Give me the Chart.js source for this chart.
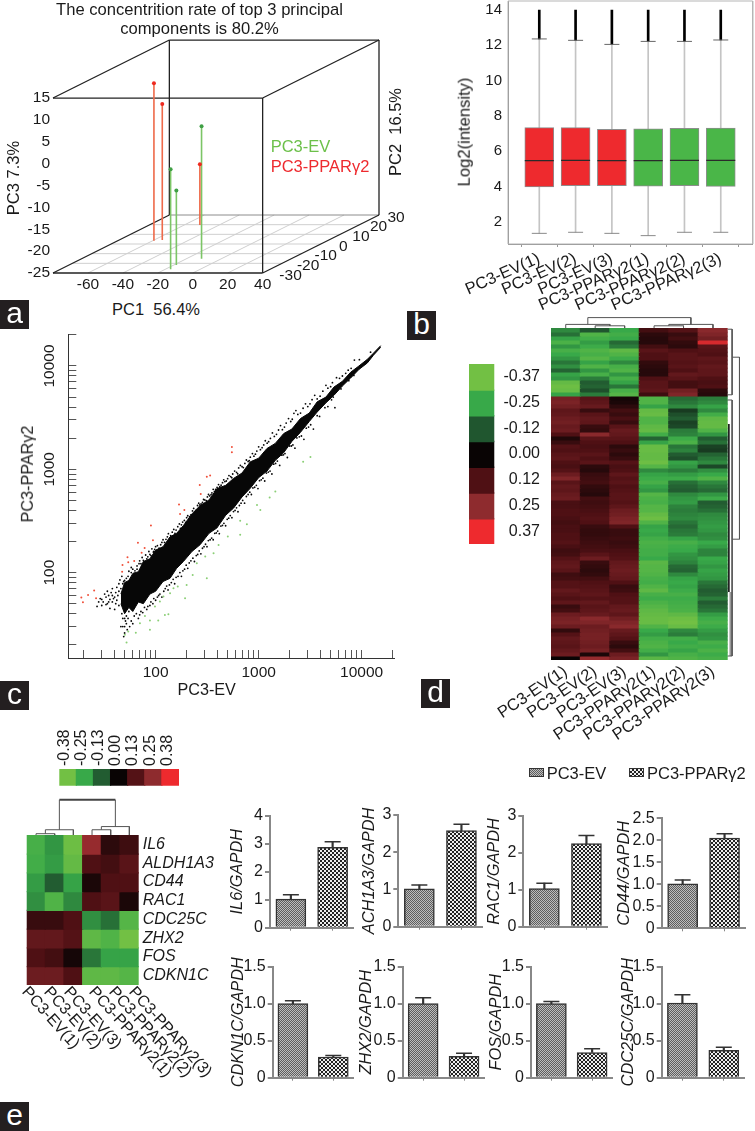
<!DOCTYPE html>
<html><head><meta charset="utf-8">
<script src="https://cdn.jsdelivr.net/npm/chart.js@4"></script>
<style>
html,body{margin:0;padding:0;background:#fff;width:755px;height:1131px;overflow:hidden}
canvas{position:absolute}
.t{position:absolute;white-space:pre;font-family:"Liberation Sans",Arial,sans-serif;color:#1a1a1a;line-height:1}
.p{position:absolute;width:29px;height:29px;background:#231f20;color:#fff;font:normal 30px/25px "Liberation Sans",Arial,sans-serif;text-align:center}
.s{position:absolute;width:13px;height:7px;border:1px solid #333}
</style></head><body>
<script>
/* ---------- a: PCA ---------- */
const evPC1=[-11.4,-16.9,-18.6], evPC2=[-15.2,-26.2,-21.7], evPC3=[5.3,-2.1,-8.0];
const ppPC1=[-59.3,-55.3,-51.1], ppPC2=[3.4,4.1,19.7], ppPC3=[11.0,6.1,-11.1];
const pc1Ticks=[-60,-40,-20,0,20,40], pc3Ticks=[15,10,5,0,-5,-10,-15,-20,-25], pc2Ticks=[-30,-20,-10,0,10,20,30];
/* ---------- b: box plot ---------- */
const samples=['PC3-EV(1)','PC3-EV(2)','PC3-EV(3)','PC3-PPARγ2(1)','PC3-PPARγ2(2)','PC3-PPARγ2(3)'];
const boxLow=[1.34,1.40,1.34,1.21,1.40,1.40];
const boxQ1=[3.97,4.04,4.04,4.02,4.04,4.00];
const boxMed=[5.46,5.48,5.46,5.46,5.48,5.48];
const boxQ3=[7.33,7.33,7.24,7.27,7.29,7.31];
const boxUp=[12.36,12.28,12.05,12.22,12.22,12.30];
const boxMax=[14,14,14,14,14,14];
/* ---------- c: scatter ---------- */
const bandEV=[46,50,55,60,68,76,88,100,118,138,160,186,225,270,330,393,480,570,690,829,1000,1205,1450,1753,2100,2547,3100,3700,4500,5380,6500,7820,9400,11360,13000,15300];
const bandUpper=[62,80,84,98,102,128,136,165,178,222,240,285,370,445,505,650,700,815,920,1180,1280,1590,1780,2220,2450,3100,3500,4500,5000,6250,7100,8700,10000,11600,13300,15740];
const bandLower=[50,40,46,42,52,50,62,66,82,88,110,128,160,186,240,270,360,420,540,655,830,960,1220,1450,1860,2280,2900,3580,4400,5200,6400,7650,9250,10700,12700,15170];
const speckle=[[38,70],[44,78],[47,92],[52,88],[55,103],[60,108],[66,116],[70,130],[76,131],[80,148],[88,150],[92,170],[98,168],[104,182],[112,186],[118,208],[126,210],[133,238],[140,228],[150,262],[158,258],[170,296],[178,290],[190,320],[205,355],[214,348],[228,395],[240,385],[255,446],[268,452],[285,478],[300,505],[318,540],[335,552],[352,590],[372,612],[395,668],[420,680],[446,742],[470,760],[500,812],[535,850],[560,900],[610,935],[640,1030],[690,1060],[735,1140],[790,1190],[830,1310],[900,1340],[960,1500],[1040,1550],[1120,1720],[1210,1790],[1300,1990],[1420,2080],[1560,2400],[1700,2420],[1850,2800],[2050,2900],[2200,3480],[2400,3400],[2700,3900],[3000,4050],[3300,4720],[3700,4800],[4200,5700],[4700,6100],[5200,6900],[6100,7600],[7000,8500],[7900,9500],[8500,11400],[9500,11500],[12200,13600],
[50,26],[52,32],[48,36],[56,30],[58,34],[62,38],[68,36],[72,42],[78,46],[84,47],[90,52],[96,56],[104,58],[110,62],[120,66],[128,74],[136,76],[148,86],[158,90],[172,100],[184,104],[198,118],[212,124],[230,138],[248,146],[265,162],[285,172],[305,188],[325,204],[350,216],[375,240],[400,252],[430,282],[460,300],[495,328],[530,356],[570,390],[610,424],[650,446],[700,500],[760,545],[820,600],[880,660],[950,700],[1020,775],[1100,820],[1190,920],[1290,960],[1400,1120],[1520,1200],[1680,1370],[1800,1420],[2000,1680],[2150,1720],[2350,2010],[2600,2100],[2900,2500],[3200,2700],[3700,3300],[4400,3950],[5100,4700],[5500,3950],[6300,6000],[7500,7200],[8400,8100],
[27,47],[30,55],[33,49],[35,60],[36,45],[38,52],[30,48],[32,62],[28,52],[34,66],[40,44],[42,72],
[45,85],[49,82],[58,112],[63,104],[69,122],[74,140],[82,136],[86,160],[95,158],[100,178],[108,172],[115,196],[122,196],[130,222],[137,214],[145,246],[154,240],[164,278],[174,268],[183,308],[196,306],[200,340],[220,362],[234,418],[248,402],[262,470],[276,462],[292,510],[310,498],[326,570],[345,568],[362,640],[382,640],[408,712],[432,702],[458,790],[485,770],[515,870],[548,830],[585,960],[625,905],[665,1090],[710,1040],[760,1230],[810,1210],[870,1420],[930,1400],[1000,1650],[1080,1620],[1160,1890],[1250,1850],[1360,2250],[1490,2180],[1630,2650],[1780,2560],[1950,3100],[2120,3050],[2300,3700],[2550,3500],[2850,4300],[3150,4300],[3500,5200],[3950,5100],[4500,6500],[5000,6300],[5700,7700],[6500,8000],[7400,9100],
[46,30],[49,24],[54,36],[60,32],[65,40],[70,39],[75,41],[82,44],[88,48],[94,50],[100,54],[107,60],[115,58],[124,70],[132,68],[142,80],[153,78],[165,92],[178,92],[191,108],[205,110],[220,130],[238,128],[256,150],[275,152],[295,178],[315,178],[338,208],[362,208],[388,242],[415,238],[445,286],[478,284],[512,336],[550,340],[590,400],[630,388],[675,470],[730,470],[790,570],[850,570],[915,670],[985,650],[1060,790],[1145,770],[1240,940],[1345,900],[1460,1140],[1600,1090],[1740,1380],[1900,1300],[2080,1680],[2250,1600],[2480,2060],[2750,1950],[3050,2560],[3400,2450],[3900,3250],[4700,4050],[5300,5000],
[50,30],[51,34],[48,30],[53,28],[50,36],[47,40],[52,38],[55,42],[44,48],[41,50],[39,56],[37,64],[35,52],[33,58],[31,52],[29,56],[43,60],[41,64],[40,58],[38,60],[36,55],[34,50],[42,54],[44,66],[46,70],[48,78],[50,84],[54,92],[58,100],[62,98],[66,108],[72,122],[78,126],[84,142],[90,146],[96,160]];
const redPts=[[19,57.3],[19.7,51.6],[22.1,60.8],[25.3,67],[26.4,56.5],[47.7,118.7],[47.3,102],[53.3,140.7],[54.2,125.9],[61.9,129.7],[67.3,195],[73.1,156],[78.2,173],[94.2,205.6],[90,285],[168.7,455],[172.6,370],[190,404],[268,705],[274,577],[314,849],[338,869],[550,1644],[550,1462]];
const greenPts=[[50.2,25],[54.2,26.9],[64.2,26.2],[88,27.9],[70.4,32.4],[78.7,38.1],[88,34.3],[106,34.3],[123,38.9],[133,39.5],[98.5,46.9],[110,52.4],[119,58.6],[138,63],[149,70.5],[164,73.2],[193,56.5],[200,76],[229,94.9],[251,123],[303,143],[314,88],[365,154],[408,185],[502,223],[662,232],[662,318],[769,294],[964,452],[1038,404],[1452,608],[1279,532],[2704,1186],[3184,1315],[52.2,21]];
const logTicks=[20,30,40,50,60,70,80,90,100,200,300,400,500,600,700,800,900,1000,2000,3000,4000,5000,6000,7000,8000,9000,10000,20000];
/* ---------- d: heat map ---------- */
const heatD=[
[-20,-12,-25,10,13,24],[-16,-30,-27,6,8,22],[-24,-27,-25,5,10,19],[-29,-23,-15,5,7,34],[-22,-26,-18,10,6,14],[-28,-30,-33,14,12,13],[-25,-28,-30,12,14,12],[-22,-31,-26,12,14,15],[-17,-24,-20,7,13,14],[-21,-30,-28,6,14,16],[-14,-22,-30,5,12,15],[-24,-28,-22,5,16,15],[-22,-18,-28,12,14,12],[-34,-13,-24,14,10,11],[-36,-14,-17,14,10,12],[-35,-11,-28,15,19,6],[-24,-18,-31,9,22,5],
[20,14,2,-30,-15,-18],[21,15,3,-30,-17,-20],[19,17,6,-24,-20,-24],[15,8,10,-34,-8,-20],[16,14,8,-35,-11,-27],[18,16,11,-30,-13,-33],[19,15,8,-30,-9,-34],[17,8,14,-33,-10,-34],[18,7,17,-34,-18,-30],[12,24,16,-27,-19,-22],[4,14,14,-14,-26,-13],[8,12,12,-24,-29,-16],[13,11,6,-35,-17,-9],[12,12,8,-35,-19,-8],[14,14,6,-34,-13,-14],[15,12,8,-34,-11,-17],[12,14,13,-36,-24,-20],[11,6,11,-31,-22,-10],[13,5,12,-20,-18,-21],[18,8,15,-24,-23,-25],[22,9,13,-26,-26,-30],[14,10,14,-28,-16,-20],[16,7,12,-24,-14,-17],[15,6,13,-22,-13,-15],[17,5,14,-31,-20,-22],[18,10,14,-29,-22,-26],[11,9,13,-28,-23,-13],[11,10,15,-31,-19,-14],[12,11,18,-31,-18,-16],[12,12,19,-34,-19,-20],[11,13,21,-36,-20,-21],[10,12,22,-30,-17,-22],[11,8,12,-24,-15,-23],[11,7,8,-25,-17,-22],[12,7,8,-24,-18,-20],[12,8,9,-27,-24,-21],[13,9,8,-29,-28,-25],[11,10,9,-28,-26,-23],[9,11,11,-27,-25,-19],[10,14,12,-27,-22,-19],[13,18,13,-25,-21,-25],[15,8,16,-32,-19,-24],[16,7,17,-31,-15,-22],[14,6,18,-31,-14,-24],[9,7,17,-30,-20,-23],[10,10,16,-28,-24,-22],[13,12,12,-27,-25,-17],[13,13,8,-30,-24,-15],[16,14,9,-33,-26,-13],[14,15,12,-28,-28,-14],[12,13,13,-26,-26,-18],[15,16,13,-29,-27,-13],[8,14,16,-31,-28,-15],[10,15,17,-33,-29,-17],[18,17,15,-34,-33,-23],[20,24,19,-35,-36,-26],[21,22,22,-35,-37,-28],[18,18,24,-30,-35,-26],[7,19,17,-25,-20,-23],[13,20,15,-23,-18,-21],[16,20,13,-27,-27,-22],[15,19,8,-29,-25,-28],[14,18,6,-30,-27,-26],[16,20,10,-27,-24,-29],[18,3,18,-22,-28,-26],[0,26,21,-32,-30,-28]];
const legendD=[[-37],[-25],[-12],[0],[12],[25],[37]];
const legendDLabels=['-0.37','-0.25','-0.12','0.00','0.12','0.25','0.37'];
/* ---------- e: heat map + bars ---------- */
const genes=['IL6','ALDH1A3','CD44','RAC1','CDC25C','ZHX2','FOS','CDKN1C'];
const heatE=[[-28,-22,-36,26,6,9],[-27,-23,-34,12,10,14],[-23,-13,-24,3,12,12],[-21,-30,-20,12,14,3],[8,8,12,-21,-16,-31],[16,16,13,-33,-30,-37],[12,10,2,-17,-24,-24],[18,18,12,-33,-33,-31]];
const legendE=[[-38,-25,-13,0,13,25,38]];
const legendELabels=['-0.38','-0.25','-0.13','0.00','0.13','0.25','0.38'];
const groups=['PC3-EV','PC3-PPARγ2'];
const barNames=['IL6/GAPDH','ACH1A3/GAPDH','RAC1/GAPDH','CD44/GAPDH','CDKN1C/GAPDH','ZHX2/GAPDH','FOS/GAPDH','CDC25C/GAPDH'];
const barValues=[[1.02,2.87],[1.02,2.58],[1.03,2.25],[1.01,2.05],[1.00,0.28],[1.00,0.29],[1.00,0.34],[1.01,0.37]];
const barErrTop=[[1.18,3.07],[1.12,2.75],[1.18,2.47],[1.10,2.15],[1.04,0.30],[1.08,0.33],[1.03,0.39],[1.12,0.41]];
const barMax=[4,3,3,2.5,1.5,1.5,1.5,1.5];
const barStep=[1,1,1,0.5,0.5,0.5,0.5,0.5];

/* ---------- helpers ---------- */
Chart.defaults.font.family='"Liberation Sans",Arial,sans-serif';
Chart.defaults.color='#1a1a1a';
const INK='#1a1a1a';
function T(text,cx,cy,size,rot,extra){
  const d=document.createElement('div');d.className='t';d.textContent=text;
  d.style.left=cx+'px';d.style.top=cy+'px';d.style.fontSize=size+'px';
  d.style.transform='translate(-50%,-50%) rotate('+(rot||0)+'deg)';
  if(extra)Object.assign(d.style,extra);document.body.appendChild(d);return d;
}
function panel(ch,x,y){const d=document.createElement('div');d.className='p';d.textContent=ch;d.style.left=x+'px';d.style.top=y+'px';document.body.appendChild(d);}
function mk(c,p,cfg,o){
  o=o||{};
  const cv=document.createElement('canvas');cv.width=c.r-c.l;cv.height=c.b-c.t;cv.style.left=c.l+'px';cv.style.top=c.t+'px';document.body.appendChild(cv);
  const s=cfg.options.scales, yRight=s.y.position==='right', xTop=s.x.position==='top';
  const zero=a=>{a.paddingLeft=a.paddingRight=a.paddingTop=a.paddingBottom=0;};
  s.x.afterFit=a=>{a.height=xTop?p.t-c.t:c.b-p.b;zero(a);};
  s.y.afterFit=a=>{a.width=yRight?c.r-p.r:p.l-c.l;zero(a);};
  cfg.options.responsive=false;cfg.options.animation=false;cfg.options.devicePixelRatio=1;
  cfg.options.plugins=Object.assign({legend:{display:false},tooltip:{enabled:false}},cfg.options.plugins||{});
  cfg.options.layout={padding:{left:yRight?p.l-c.l:0,right:yRight?0:c.r-p.r,top:xTop?0:p.t-c.t-(o.titleH||0),bottom:xTop?c.b-p.b:0}};
  return new Chart(cv,cfg);
}
const at=arr=>(s=>{s.ticks=arr.map(v=>({value:v}));});
function seg(pts,color,width){return {type:'line',data:pts.map(q=>({x:q[0],y:q[1]})),borderColor:color,borderWidth:width,pointRadius:0,fill:false,clip:false,tension:0};}
const noGrid={display:false,drawTicks:false};
const hidden={grid:noGrid,border:{display:false},ticks:{display:false}};
/* colour scale (values in hundredths) */
const stops=[[-37,[114,192,68]],[-25,[56,169,73]],[-12,[32,86,47]],[0,[9,4,4]],[12,[79,16,20]],[25,[142,43,46]],[37,[238,42,46]]];
function heatColor(v){
  v=Math.max(-37,Math.min(37,v));
  for(let i=0;i<stops.length-1;i++){const a=stops[i],b=stops[i+1];
    if(v<=b[0]){const f=(v-a[0])/(b[0]-a[0]);return 'rgb('+a[1].map((q,k)=>Math.round(q+(b[1][k]-q)*f)).join(',')+')';}}
}
function cellDatasets(rows,colW){
  return rows.map((row,r)=>({data:row.map((v,k)=>({x:k+.5,y:[r,r+1.03]})),backgroundColor:row.map(heatColor),barThickness:colW+.6,grouped:false,borderWidth:0}));
}
function cellChart(c,p,rows,extra,xOpt,yOpt){
  const nR=rows.length,nC=rows[0].length,colW=(p.r-p.l)/nC;
  const colCenters=rows[0].map((_,k)=>k+.5), rowCenters=rows.map((_,r)=>r+.5);
  return mk(c,p,{type:'bar',data:{datasets:cellDatasets(rows,colW).concat(extra||[])},options:{
    scales:{
      x:Object.assign({type:'linear',offset:false,min:0,max:nC,afterBuildTicks:at(colCenters)},hidden,xOpt||{}),
      y:Object.assign({type:'linear',reverse:true,min:0,max:nR,afterBuildTicks:at(rowCenters)},hidden,yOpt||{})
    }}});
}
function pattern(cell,a,b){
  const k=document.createElement('canvas');k.width=k.height=cell*2;const g=k.getContext('2d');
  g.fillStyle=a;g.fillRect(0,0,cell*2,cell*2);g.fillStyle=b;g.fillRect(0,0,cell,cell);g.fillRect(cell,cell,cell,cell);return k;
}
const patEV=pattern(1,'#5e5e5e','#bdbdbd'), patPP=pattern(2,'#222','#eeeeee');
const pctx=document.createElement('canvas').getContext('2d');

/* ---------- panel a ---------- */
const kx=1.11, ky=.22095;
const proj=(a,b,c)=>[a+(b+30)*kx, c+(b+30)*ky];
(function(){
  const ds=[];
  pc1Ticks.slice(0,5).forEach(v=>ds.push(seg([proj(v,-30,-25),proj(v,30,-25)],'#cfcfcf',1)));
  pc2Ticks.slice(1,6).forEach(v=>ds.push(seg([proj(-80,v,-25),proj(40,v,-25)],'#cfcfcf',1)));
  ds.push(seg([proj(-80,30,-25),proj(40,30,-25)],'#8c8c8c',1));
  const edge=[[[-80,-30,15],[40,-30,15]],[[-80,-30,-25],[40,-30,-25]],[[40,-30,15],[40,-30,-25]],
    [[-80,30,15],[40,30,15]],[[-80,30,15],[-80,30,-25]],[[40,30,15],[40,30,-25]],
    [[-80,-30,15],[-80,30,15]],[[40,-30,15],[40,30,15]],[[-80,-30,-25],[-80,30,-25]],[[40,-30,-25],[40,30,-25]]];
  edge.forEach(e=>ds.push(seg(e.map(q=>proj(q[0],q[1],q[2])),'#222',1.3)));
  const stem=(a,b,c,col,dot)=>{const d=seg([proj(a,b,c),proj(a,b,-25)],col,1.6);d.pointRadius=[2,0];d.pointBackgroundColor=dot;d.pointBorderWidth=0;ds.push(d);};
  evPC1.forEach((v,i)=>stem(v,evPC2[i],evPC3[i],'#7cc566','#3f9f45'));
  ppPC1.forEach((v,i)=>stem(v,ppPC2[i],ppPC3[i],'#ee6a4a','#ee2a20'));
  ds.reverse();
  const pc2Labels={id:'pc2Labels',afterDraw(ch){
    const g=ch.ctx;g.save();g.font='15.5px "Liberation Sans"';g.fillStyle=INK;g.textAlign='center';g.textBaseline='middle';
    pc2Ticks.forEach(v=>{const q=proj(40,v,-25);g.fillText(String(v),ch.scales.x.getPixelForValue(q[0])+22.5-v*.18,ch.scales.y.getPixelForValue(q[1])+2.5);});
    g.restore();}};
  mk({l:20,t:0,r:408,b:298},{l:53,t:40,r:379,b:273},{type:'scatter',data:{datasets:ds},plugins:[pc2Labels],options:{
    plugins:{title:{display:true,text:['The concentrition rate of top 3 principal','components is 80.2%'],color:INK,font:{size:16.6,weight:'normal',lineHeight:1.2},padding:{top:0,bottom:0.2}}},
    scales:{
      x:{type:'linear',min:-80,max:40+60*kx,grid:noGrid,border:{display:false},afterBuildTicks:at(pc1Ticks),ticks:{autoSkip:false,maxRotation:0,font:{size:15.5},padding:2,callback:v=>String(v)}},
      y:{type:'linear',min:-25,max:15+60*ky,grid:noGrid,border:{display:false},afterBuildTicks:at(pc3Ticks),ticks:{autoSkip:false,font:{size:15.5},padding:3,callback:v=>String(v)}}
    }}},{titleH:40});
  T('PC3 7.3%',13,178,16.5,-90);T('PC2  16.5%',395,132,16.5,-90);T('PC1  56.4%',156,309,16.5);
  T('PC3-EV',270.7,145.7,16.5,0,{transform:'translate(0,-50%)',color:'#6cc04a'});
  T('PC3-PPARγ2',270.7,165.5,16.5,0,{transform:'translate(0,-50%)',color:'#ee2a2e'});
  panel('a',0,300);
})();

/* ---------- panel b ---------- */
(function(){
  const xs=samples.map((_,i)=>i+1);
  const col=xs.map(i=>i<=3?'#ee2a2e':'#4ab648');
  const pts=a=>a.map((y,i)=>({x:xs[i],y}));
  const fl=(a,b)=>a.map((y,i)=>({x:xs[i],y:[y,b[i]]}));
  const xMin=.138,xMax=6.88,yMin=.736,yMax=14.51;
  const caps=(a,c)=>({type:'line',data:pts(a),showLine:false,pointStyle:'line',pointRadius:7.5,pointBorderColor:c,pointBorderWidth:1});
  const ds=[
    {type:'line',data:pts(boxMed),showLine:false,pointStyle:'line',pointRadius:14.5,pointBorderColor:'#2a2a2a',pointBorderWidth:1.3},
    caps(boxLow,'#8a8a8a'),caps(boxUp,'#666'),
    {data:fl(boxQ1,boxQ3),backgroundColor:col,borderColor:'#8d8d8d',borderWidth:1,borderSkipped:false,barThickness:29,grouped:false},
    {data:fl(boxUp,boxMax),backgroundColor:'#000',barThickness:2,grouped:false,borderWidth:0},
    {data:fl(boxLow,boxQ1),backgroundColor:'#c4c4c4',barThickness:1,grouped:false,borderWidth:0},
    {data:fl(boxQ3,boxUp),backgroundColor:'#c4c4c4',barThickness:1,grouped:false,borderWidth:0},
    seg([[xMin,yMin],[xMin,yMax],[xMax,yMax],[xMax,yMin],[xMin,yMin]],'#b5b5b5',1)
  ];
  mk({l:460,t:-20,r:790,b:315},{l:508,t:1,r:752.7,b:244},{type:'bar',data:{datasets:ds},options:{scales:{
    x:{type:'linear',offset:false,min:xMin,max:xMax,grid:{display:true,drawOnChartArea:false,tickLength:3,color:'#999'},border:{color:'#8a8a8a'},afterBuildTicks:at(xs),ticks:{autoSkip:false,minRotation:24,maxRotation:24,font:{size:16.5},padding:2,callback:(v,i)=>samples[i]}},
    y:{type:'linear',min:yMin,max:yMax,grid:noGrid,border:{color:'#8a8a8a'},afterBuildTicks:at([2,4,6,8,10,12,14]),ticks:{autoSkip:false,font:{size:15},padding:6,callback:v=>String(v)}}
  }}});
  T('Log2(intensity)',465,132,16.6,-90);
  panel('b',407,311);
})();

/* ---------- panel c ---------- */
(function(){
  const P=(a)=>a.map(q=>({x:q[0],y:q[1]}));
  const up=bandEV.map((x,i)=>({x,y:bandUpper[i]})), lo=bandEV.map((x,i)=>({x,y:bandLower[i]}));
  const ds=[
    {type:'scatter',data:P(greenPts),pointRadius:1,backgroundColor:'#8bcf76',pointBorderWidth:0},
    {type:'scatter',data:P(redPts),pointRadius:1,backgroundColor:'#f0503a',pointBorderWidth:0},
    {type:'scatter',data:P(speckle),pointRadius:.9,backgroundColor:'#070707',pointBorderWidth:0},
    {type:'line',data:up,borderColor:'#070707',borderWidth:1,pointRadius:0,tension:0,fill:'+1',backgroundColor:'#070707'},
    {type:'line',data:lo,borderColor:'#070707',borderWidth:1,pointRadius:0,tension:0,fill:false}
  ];
  const lab=v=>(v===100||v===1000||v===10000)?String(v):'';
  mk({l:30,t:325,r:405,b:682},{l:68.3,t:334,r:394,b:658},{type:'scatter',data:{datasets:ds},options:{scales:{
    x:{type:'logarithmic',min:14.2,max:20600,grid:{drawOnChartArea:false,tickLength:-8,color:'#555'},border:{color:'#333'},afterBuildTicks:at(logTicks),ticks:{autoSkip:false,maxRotation:0,font:{size:15.5},padding:13,callback:lab}},
    y:{type:'logarithmic',min:14.9,max:20400,grid:{drawOnChartArea:false,tickLength:-8,color:'#555'},border:{color:'#333'},afterBuildTicks:at(logTicks),ticks:{autoSkip:false,minRotation:90,maxRotation:90,crossAlign:'center',font:{size:15.5},padding:5.5,callback:lab}}
  }}});
  T('PC3-PPARγ2',27,474,16.2,-90);T('PC3-EV',206.7,689,16.2);
  panel('c',0,681);
})();

/* ---------- panel d ---------- */
(function(){
  const L='#555';
  const tree=[[[1.5,0],[1.5,-.55],[2.5,-.55],[2.5,0]],[[.5,0],[.5,-.9],[2,-.9],[2,-.55]],[[3.5,0],[3.5,-.55],[4.5,-.55],[4.5,0]],[[4,-.55],[4,-.9],[5.5,-.9],[5.5,0]],[[1.25,-.9],[1.25,-2.6],[4.75,-2.6],[4.75,-.9]],
    [[6,.3],[6.15,.3],[6.15,16.7],[6,16.7]],[[6.15,7.3],[6.4,7.3],[6.4,52.8],[6.15,52.8]],[[6,18],[6.15,18],[6.15,82],[6,82]]].map(t=>seg(t,L,1));
  tree.push(seg([[6.04,24],[6.04,66]],'#111',1.6));
  tree.push(seg([[6.1,66],[6.1,82]],'#999',2.4));
  cellChart({l:480,t:312,r:745,b:745},{l:551,t:328,r:727.7,b:660},heatD,tree,
    {ticks:{display:true,autoSkip:false,minRotation:34,maxRotation:34,font:{size:16.5},padding:2,callback:(v,i)=>samples[i]}});
  cellChart({l:460,t:360,r:540,b:550},{l:469,t:364,r:494.3,b:544},legendD,null,null,
    {position:'right',ticks:{display:true,autoSkip:false,crossAlign:'far',font:{size:16},padding:4,callback:(v,i)=>legendDLabels[i]}});
  panel('d',421,679);
})();

/* ---------- panel e heat ---------- */
(function(){
  const tree=[[[.5,0],[.5,-.07],[1.5,-.07],[1.5,0]],[[1,-.07],[1,-.28],[2.5,-.28],[2.5,0]],[[3.5,0],[3.5,-.28],[4.5,-.28],[4.5,0]],[[4,-.28],[4,-.45],[5.5,-.45],[5.5,0]],[[1.75,-.28],[1.75,-1.88]],[[4.75,-.45],[4.75,-1.88]]].map(t=>seg(t,'#555',1));
  tree.push(seg([[1.75,-1.88],[4.75,-1.88]],'#444',2));
  cellChart({l:20,t:795,r:225,b:990},{l:26.7,t:835,r:138.7,b:985},heatE,tree,null,
    {position:'right',ticks:{display:true,autoSkip:false,crossAlign:'near',font:{size:16,style:'italic'},padding:4,callback:(v,i)=>genes[i]}});
  cellChart({l:50,t:725,r:190,b:790},{l:59.3,t:769,r:179,b:785.7},legendE,null,
    {position:'top',ticks:{display:true,autoSkip:false,minRotation:90,maxRotation:90,labelOffset:16,font:{size:16},padding:3,callback:(v,i)=>legendELabels[i]}});
  const sx=[25,47,67,92,112,132];
  samples.forEach((s,i)=>{T(s,sx[i],989,16,0,{transform:'translate(0,-50%) rotate(48deg)',transformOrigin:'0 50%'});});
  panel('e',0,1102);
})();

/* ---------- panel e bars ---------- */
const barPlots=[[270,360,815.7,927.7,238],[398.3,488.3,815,926.7,370],[523.3,613.3,816,926.7,495],[661.7,751.7,818.3,928.3,625],
  [272.7,360,966.7,1077.7,239],[402.7,490.7,966.7,1077.7,367],[531,618.3,966.7,1077.7,497],[661.7,751,966.7,1077.7,629]];
barPlots.forEach((q,k)=>{
  const l=Math.round(q[4]-9.8), t=Math.round(q[2])-30, b=Math.round(q[3])+30, r=Math.ceil(q[1])+3;
  const ticks=[];for(let v=0;v<=barMax[k]+1e-6;v+=barStep[k])ticks.push(+v.toFixed(1));
  const step=barStep[k];
  mk({l,t,r,b},{l:q[0],t:q[2],r:q[1],b:q[3]},{type:'bar',data:{labels:groups,datasets:[
    {data:barValues[k].map((v,i)=>[v,barErrTop[k][i]]),backgroundColor:'#333',barThickness:1.5,grouped:false,borderWidth:0},
    {data:barValues[k],backgroundColor:[pctx.createPattern(patEV,'repeat'),pctx.createPattern(patPP,'repeat')],borderColor:'#333',borderWidth:1.5,barThickness:30,grouped:false},
    {type:'line',data:barErrTop[k],showLine:false,pointStyle:'line',pointRadius:8,pointBorderColor:'#333',pointBorderWidth:1.5}
  ]},options:{scales:{
    x:{type:'category',offset:true,grid:{drawOnChartArea:false,tickLength:3,color:'#888',offset:false},border:{color:'#888',width:2},ticks:{autoSkip:false,maxRotation:0,callback:()=>''}},
    y:{type:'linear',min:0,max:barMax[k],grid:{drawOnChartArea:false,tickLength:5,color:'#888',lineWidth:2},border:{color:'#888',width:2},afterBuildTicks:at(ticks),
       title:{display:true,text:barNames[k],color:INK,font:{size:16.4,style:'italic',lineHeight:1.2},padding:0},
       ticks:{autoSkip:false,font:{size:16},padding:2,callback:v=>v===0?'0':(step<1?v.toFixed(1):String(v))}}
  }}});
});
/* legend of the bars */
function swatch(x,pat){const d=document.createElement('div');d.className='s';d.style.left=x+'px';d.style.top='768px';d.style.backgroundImage='url('+pat.toDataURL()+')';document.body.appendChild(d);}
swatch(529,patEV);swatch(629,patPP);
T(groups[0],546.7,772.5,16.5,0,{transform:'translate(0,-50%)'});
T(groups[1],647,772.5,16.5,0,{transform:'translate(0,-50%)'});
</script>
</body></html>
